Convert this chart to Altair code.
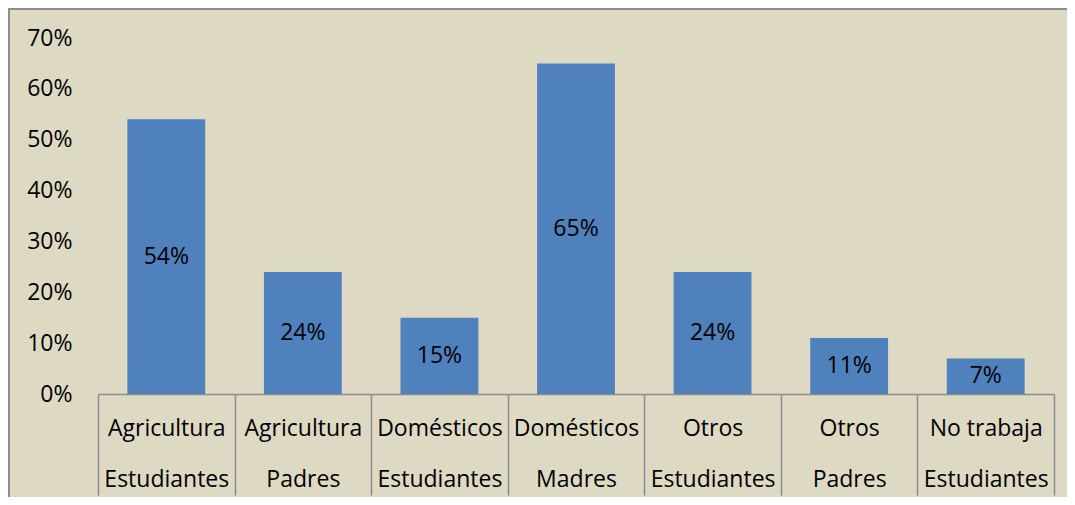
import altair as alt
import pandas as pd

categories = [
    "Agricultura|Estudiantes",
    "Agricultura|Padres",
    "Domésticos|Estudiantes",
    "Domésticos|Madres",
    "Otros|Estudiantes",
    "Otros|Padres",
    "No trabaja|Estudiantes",
]
values = [0.54, 0.24, 0.15, 0.65, 0.24, 0.11, 0.07]
labels = ["54%", "24%", "15%", "65%", "24%", "11%", "7%"]
y_ticks = [0, 0.1, 0.2, 0.3, 0.4, 0.5, 0.6, 0.7]

df = pd.DataFrame({
    "cat": categories,
    "val": values,
    "mid": [v / 2 for v in values],
    "lab": labels,
})

W, H = 956, 356
FONT = "Open Sans"
FS = 23
GRAY = "#8C8C8C"

xscale = alt.Scale(paddingInner=0, paddingOuter=0)
xenc = alt.X(
    "cat:N",
    sort=None,
    title=None,
    scale=xscale,
    axis=alt.Axis(
        labelAngle=0,
        labelExpr="split(datum.label, '|')",
        labelLineHeight=51,
        labelBaseline="middle",
        labelPadding=-67,
        labelFont=FONT,
        labelFontSize=FS,
        labelColor="black",
        labelLimit=0,
        tickBand="extent",
        tickSize=101,
        tickColor=GRAY,
        tickWidth=1.5,
        domainColor=GRAY,
        domainWidth=1.5,
        grid=False,
    ),
)
yscale = alt.Scale(domain=[0, 0.7], nice=False)

bars = alt.Chart(df).mark_bar(color="#4F81BD", width=alt.RelativeBandSize(0.57)).encode(
    x=xenc,
    y=alt.Y(
        "val:Q",
        scale=yscale,
        title=None,
        axis=alt.Axis(
            values=y_ticks,
            format=".0%",
            domain=False,
            ticks=False,
            grid=False,
            labelFont=FONT,
            labelFontSize=FS,
            labelColor="black",
            labelPadding=26,
        ),
    ),
)

text = alt.Chart(df).mark_text(font=FONT, fontSize=FS, color="black", baseline="middle").encode(
    x=alt.X("cat:N", sort=None, scale=xscale),
    y=alt.Y("mid:Q", scale=yscale),
    text="lab:N",
)

border_df = pd.DataFrame({"a": [0]})
left_border = alt.Chart(border_df).mark_rule(color=GRAY, strokeWidth=2).encode(
    x=alt.value(-89), y=alt.value(-30), y2=alt.value(H + 110)
)
top_border = alt.Chart(border_df).mark_rule(color=GRAY, strokeWidth=2).encode(
    x=alt.value(-90), x2=alt.value(W + 20), y=alt.value(-29)
)

chart = alt.layer(bars, text, left_border, top_border).properties(
    width=W,
    height=H,
    autosize=alt.AutoSizeParams(type="none"),
    padding={"left": 90, "top": 30, "right": 13, "bottom": 103},
    background="#DDD9C3",
).configure_view(stroke=None)

chart.save("out.html", embed_options={"renderer": "svg", "actions": False})
